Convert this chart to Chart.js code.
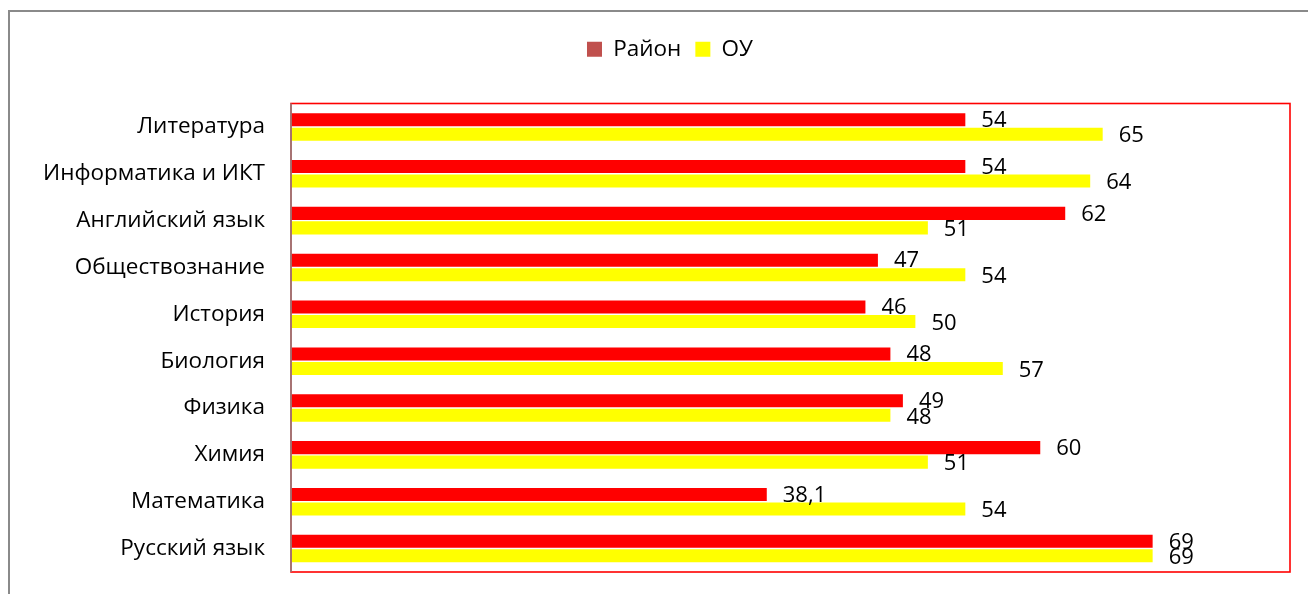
<!DOCTYPE html>
<html><head><meta charset="utf-8">
<script src="https://cdn.jsdelivr.net/npm/chart.js@4/dist/chart.umd.min.js"></script>
<style>
html,body{margin:0;padding:0;background:#fff;width:1308px;height:594px;overflow:hidden}
#wrap{position:relative;width:1308px;height:594px}
#frame{position:absolute;left:8px;top:10px;width:1400px;height:700px;border-left:2px solid #8a8a8a;border-top:2px solid #8a8a8a;pointer-events:none}
canvas{position:absolute;left:0;top:0}
</style></head>
<body><div id="wrap"><canvas id="c" width="1308" height="594"></canvas><div id="frame"></div></div>
<script>
const categories = ["Литература","Информатика и ИКТ","Английский язык","Обществознание","История","Биология","Физика","Химия","Математика","Русский язык"];
const rayon = [54,54,62,47,46,48,49,60,38.1,69];
const ou = [65,64,51,54,50,57,48,51,54,69];
const seriesNames = ["Район","ОУ"];
const FONT = "'Open Sans'";

const legendGap = {
  id:'legendGap',
  afterInit(chart){
    const lg = chart.legend;
    if (lg) {
      const origFit = lg.fit;
      lg.fit = function(){ origFit.call(this); this.height += 33; };
      const origDraw = lg.draw;
      lg.draw = function(){ const c = this.ctx; c.save(); c.translate(25, 0); origDraw.apply(this, arguments); c.restore(); };
    }
  }
};
const borderPlugin = {
  id:'plotBorder',
  afterDraw(chart){
    const {ctx, chartArea:a} = chart;
    ctx.save();
    ctx.strokeStyle = '#ff0000';
    ctx.lineWidth = 1.6;
    ctx.strokeRect(a.left, a.top, a.right-a.left, a.bottom-a.top);
    ctx.strokeStyle = '#8a8a8a';
    ctx.lineWidth = 1.5;
    ctx.beginPath(); ctx.moveTo(a.left, a.top); ctx.lineTo(a.left, a.bottom); ctx.stroke();
    ctx.restore();
  }
};
const labelPlugin = {
  id:'valLabels',
  afterDatasetsDraw(chart){
    const ctx = chart.ctx;
    ctx.save();
    ctx.font = "22px " + FONT;
    ctx.fillStyle = '#000';
    ctx.textAlign = 'left';
    ctx.textBaseline = 'middle';
    chart.data.datasets.forEach((ds, di) => {
      const meta = chart.getDatasetMeta(di);
      meta.data.forEach((bar, i) => {
        const v = ds.data[i];
        const t = String(v).replace('.', ',');
        ctx.fillText(t, bar.x + 16, bar.y + (di===0 ? 1 : 2));
      });
    });
    ctx.restore();
  }
};

new Chart(document.getElementById('c'), {
  type:'bar',
  data:{
    labels: categories,
    datasets:[
      {label: seriesNames[0], data: rayon, backgroundColor:'#ff0000', categoryPercentage:0.62, barPercentage:0.9},
      {label: seriesNames[1], data: ou, backgroundColor:'#ffff00', categoryPercentage:0.62, barPercentage:0.9}
    ]
  },
  options:{
    indexAxis:'y',
    responsive:false,
    animation:false,
    layout:{padding:{top:24,right:18,left:0,bottom:22}},
    plugins:{
      legend:{
        position:'top',
        labels:{
          font:{family:"Open Sans",size:22.5},
          color:'#000',
          boxWidth:15, boxHeight:15,
          padding:14,
          generateLabels(chart){
            return [
              {text:seriesNames[0], fillStyle:'#c0504d', strokeStyle:'#c0504d', lineWidth:0, datasetIndex:0},
              {text:seriesNames[1], fillStyle:'#ffff00', strokeStyle:'#ffff00', lineWidth:0, datasetIndex:1}
            ];
          }
        }
      },
      tooltip:{enabled:false}
    },
    scales:{
      x:{display:false, min:0, max:80},
      y:{
        grid:{display:false, drawTicks:false},
        border:{display:false},
        ticks:{font:{family:"Open Sans",size:22.5}, color:'#000', padding:26},
        afterFit(scale){ scale.width = 291; scale.paddingTop = 0; scale.paddingBottom = 0; }
      }
    }
  },
  plugins:[legendGap, borderPlugin, labelPlugin]
});
</script></body></html>
